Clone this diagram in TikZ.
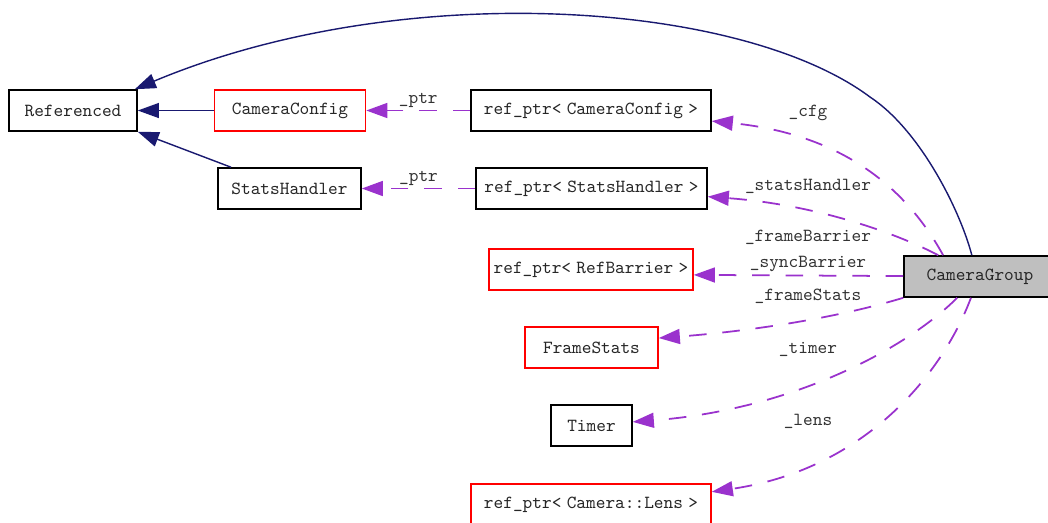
\documentclass[tikz,border=0pt]{standalone}
\usepackage{fontspec}
\newfontfamily\dotfont[WordSpace=0.55]{Latin Modern Mono}
\usetikzlibrary{arrows.meta}
\usepackage{xcolor}
\definecolor{inhblue}{HTML}{191970}
\definecolor{usepurple}{HTML}{9A32CD}
\definecolor{nodocred}{HTML}{FF0000}
\definecolor{selfgray}{HTML}{BFBFBF}

\begin{document}
\begin{tikzpicture}[x=0.02cm, y=-0.02cm,
      cls/.style={draw=black, line width=0.9pt, fill=white, minimum height=0.82cm,
                  inner sep=0pt, text=black!85, font=\dotfont\fontsize{10.5}{12}\selectfont},
      nodoc/.style={cls, draw=nodocred},
      self/.style={cls, fill=selfgray},
      inherit/.style={-{Triangle[length=12pt, width=8.5pt]}, line width=0.8pt, inhblue},
      usage/.style={-{Triangle[length=12pt, width=8.5pt]}, line width=1pt, usepurple,
                    dash pattern=on 10pt off 9pt},
      lbl/.style={font=\dotfont\fontsize{10.5}{12}\selectfont, text=black!80, inner sep=1pt}
    ]
      \useasboundingbox[fill=white] (0,0) rectangle (1048,522);

      \node[cls, minimum width=2.56cm] (ref) at (73,110.5) {Referenced};
      \node[nodoc, minimum width=3.02cm] (cfg) at (290,110.5) {CameraConfig};
      \node[cls, minimum width=2.86cm] (stats) at (289.5,188.5) {StatsHandler};

      \node[cls, minimum width=4.8cm] (cfgptr) at (591,110.5) {ref\_ptr< CameraConfig >};
      \node[cls, minimum width=4.62cm] (shptr) at (591.5,188.5) {ref\_ptr< StatsHandler >};
      \node[nodoc, minimum width=4.08cm] (barrier) at (591,269.5) {ref\_ptr< RefBarrier >};
      \node[nodoc, minimum width=2.66cm] (fstats) at (591.5,347.5) {FrameStats};
      \node[cls, minimum width=1.62cm] (timer) at (591.5,425.5) {Timer};
      \node[nodoc, minimum width=4.8cm] (lens) at (591,504.5) {ref\_ptr< Camera::Lens >};

      \node[self, minimum width=3.04cm] (group) at (980,276.5) {CameraGroup};

      \draw[inherit] (group.111) .. controls (960,210) and (920,130) .. (870,97)
        .. controls (740,0) and (400,-22) .. (ref.19);
      \draw[inherit] (cfg) -- (ref);
      \draw[inherit] (stats.160) -- (ref.south east);

      \draw[usage] (cfgptr) -- (cfg) node[midway, above, lbl] {\_ptr};
      \draw[usage] (shptr) -- (stats) node[midway, above, lbl] {\_ptr};

      \draw[usage] (group.150) .. controls (910,195) and (850,135) .. (cfgptr.-5);
      \draw[usage] (group.153) .. controls (900,235) and (820,205) .. (shptr.-4);
      \draw[usage] (group) -- (barrier.-3);
      \draw[usage] (group.south west) .. controls (830,320) and (740,332) .. (fstats.8);
      \draw[usage] (group.223) .. controls (905,350) and (790,410) .. (timer.5);
      \draw[usage] (group.247) .. controls (940,380) and (860,470) .. (lens.6);

      \node[lbl] (lcfg) at (808,113) {\_cfg};
      \node[lbl] (lsh) at (808,186) {\_statsHandler};
      \node[lbl] (lfb) at (808,237) {\_frameBarrier};
      \node[lbl] (lsb) at (808,264) {\_syncBarrier};
      \node[lbl] (lfs) at (808,296) {\_frameStats};
      \node[lbl] (ltm) at (808,349) {\_timer};
      \node[lbl] (lln) at (808,421) {\_lens};
    \end{tikzpicture}
\end{document}
